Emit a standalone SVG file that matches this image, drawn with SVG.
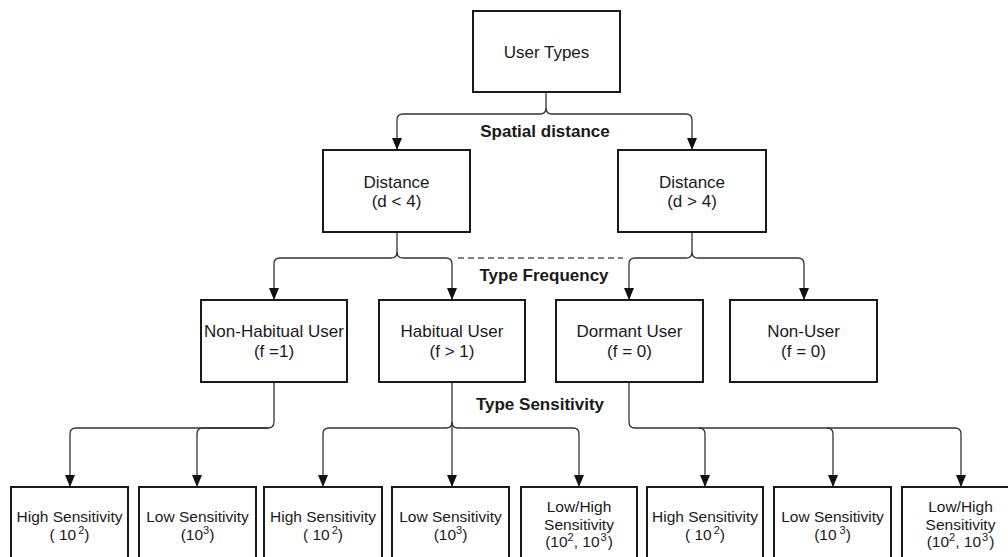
<svg xmlns="http://www.w3.org/2000/svg" width="1008" height="557" viewBox="0 0 1008 557">
  <style>
    .box { fill: #ffffff; stroke: #1a1a1a; stroke-width: 2; }
    .t { font-family: "Liberation Sans", Arial, sans-serif; fill: #1a1a1a; text-anchor: middle; }
    .t17 { font-size: 17px; }
    .t16 { font-size: 17px; }
    .t15 { font-size: 15.5px; }
    .lbl { font-family: "Liberation Sans", Arial, sans-serif; font-weight: bold; font-size: 17px; fill: #1a1a1a; text-anchor: middle; }
    .sup { font-size: 11px; }
    .wire { fill: none; stroke: #333333; stroke-width: 1.3; }
    .dash { fill: none; stroke: #555555; stroke-width: 1.3; stroke-dasharray: 6 4; }
  </style>
  <defs>
    <marker id="arrow" markerUnits="userSpaceOnUse" viewBox="0 0 12 10" refX="12" refY="5" markerWidth="12" markerHeight="10" orient="auto">
      <path d="M0,0 L12,5 L0,10 z" fill="#111111"/>
    </marker>
  </defs>
  <rect width="1008" height="557" fill="#ffffff"/>

  <g id="connectors">
    <!-- root to distance split -->
    <path class="wire" marker-end="url(#arrow)" d="M546,92 V108 Q546,114 540,114 H403 Q397,114 397,120 V150"/>
    <path class="wire" marker-end="url(#arrow)" d="M546,108 Q546,114 552,114 H686 Q692,114 692,120 V150"/>
    <!-- distance to frequency split -->
    <path class="wire" marker-end="url(#arrow)" d="M397,232 V252 Q397,258 391,258 H280 Q274,258 274,264 V300"/>
    <path class="wire" marker-end="url(#arrow)" d="M397,252 Q397,258 403,258 H446 Q452,258 452,264 V300"/>
    <path class="dash" d="M458,258 H623"/>
    <path class="wire" marker-end="url(#arrow)" d="M692,232 V252 Q692,258 686,258 H635 Q629,258 629,264 V300"/>
    <path class="wire" marker-end="url(#arrow)" d="M692,252 Q692,258 698,258 H798 Q804,258 804,264 V300"/>
    <!-- frequency to sensitivity split -->
    <path class="wire" marker-end="url(#arrow)" d="M274,382 V422 Q274,428 268,428 H76 Q70,428 70,434 V487"/>
    <path class="wire" marker-end="url(#arrow)" d="M268,428 H203 Q197,428 197,434 V487"/>
    <path class="wire" marker-end="url(#arrow)" d="M452,382 V422 Q452,428 446,428 H329 Q323,428 323,434 V487"/>
    <path class="wire" marker-end="url(#arrow)" d="M452,422 V487"/>
    <path class="wire" marker-end="url(#arrow)" d="M452,422 Q452,428 458,428 H573 Q579,428 579,434 V487"/>
    <path class="wire" marker-end="url(#arrow)" d="M629,382 V422 Q629,428 635,428 H699 Q705,428 705,434 V487"/>
    <path class="wire" marker-end="url(#arrow)" d="M699,428 H827 Q833,428 833,434 V487"/>
    <path class="wire" marker-end="url(#arrow)" d="M827,428 H955 Q961,428 961,434 V487"/>
  </g>

  <g id="labels">
    <text class="lbl" x="545" y="137">Spatial distance</text>
    <text class="lbl" x="544" y="281">Type Frequency</text>
    <text class="lbl" x="540" y="410">Type Sensitivity</text>
  </g>

  <g id="user-types">
    <rect class="box" x="473" y="11" width="147" height="81"/>
    <text class="t t17" x="546.5" y="58">User Types</text>
  </g>

  <g id="distance-near">
    <rect class="box" x="323" y="150" width="147" height="82"/>
    <text class="t t17" x="396.5" y="188">Distance</text>
    <text class="t t17" x="396.5" y="207">(d &lt; 4)</text>
  </g>
  <g id="distance-far">
    <rect class="box" x="618" y="150" width="148" height="82"/>
    <text class="t t17" x="692" y="188">Distance</text>
    <text class="t t17" x="692" y="207">(d &gt; 4)</text>
  </g>

  <g id="non-habitual-user">
    <rect class="box" x="201" y="300" width="146" height="82"/>
    <text class="t t16" x="274" y="337">Non-Habitual User</text>
    <text class="t t16" x="274" y="357">(f =1)</text>
  </g>
  <g id="habitual-user">
    <rect class="box" x="379" y="300" width="146" height="82"/>
    <text class="t t16" x="452" y="337">Habitual User</text>
    <text class="t t16" x="452" y="357">(f &gt; 1)</text>
  </g>
  <g id="dormant-user">
    <rect class="box" x="556" y="300" width="147" height="82"/>
    <text class="t t16" x="629.5" y="337">Dormant User</text>
    <text class="t t16" x="629.5" y="357">(f = 0)</text>
  </g>
  <g id="non-user">
    <rect class="box" x="730" y="300" width="147" height="82"/>
    <text class="t t16" x="803.5" y="337">Non-User</text>
    <text class="t t16" x="803.5" y="357">(f = 0)</text>
  </g>

  <g id="high-sensitivity-1">
    <rect class="box" x="11" y="487" width="117" height="80"/>
    <text class="t t15" x="69.5" y="522">High Sensitivity</text>
    <text class="t t15" x="69.5" y="540">( 10<tspan class="sup" dx="2" dy="-6">2</tspan><tspan dy="6">)</tspan></text>
  </g>
  <g id="low-sensitivity-1">
    <rect class="box" x="139" y="487" width="117" height="80"/>
    <text class="t t15" x="197.5" y="522">Low Sensitivity</text>
    <text class="t t15" x="197.5" y="540">(10<tspan class="sup" dy="-6">3</tspan><tspan dy="6">)</tspan></text>
  </g>
  <g id="high-sensitivity-2">
    <rect class="box" x="264" y="487" width="118" height="80"/>
    <text class="t t15" x="323" y="522">High Sensitivity</text>
    <text class="t t15" x="323" y="540">( 10<tspan class="sup" dx="2" dy="-6">2</tspan><tspan dy="6">)</tspan></text>
  </g>
  <g id="low-sensitivity-2">
    <rect class="box" x="392" y="487" width="117" height="80"/>
    <text class="t t15" x="450.5" y="522">Low Sensitivity</text>
    <text class="t t15" x="450.5" y="540">(10<tspan class="sup" dy="-6">3</tspan><tspan dy="6">)</tspan></text>
  </g>
  <g id="low-high-sensitivity-1">
    <rect class="box" x="521" y="487" width="116" height="80"/>
    <text class="t t15" x="579" y="512">Low/High</text>
    <text class="t t15" x="579" y="530">Sensitivity</text>
    <text class="t t15" x="579" y="547">(10<tspan class="sup" dy="-6">2</tspan><tspan dy="6">, 10</tspan><tspan class="sup" dx="1" dy="-6">3</tspan><tspan dx="1" dy="6">)</tspan></text>
  </g>
  <g id="high-sensitivity-3">
    <rect class="box" x="647" y="487" width="116" height="80"/>
    <text class="t t15" x="705" y="522">High Sensitivity</text>
    <text class="t t15" x="705" y="540">( 10<tspan class="sup" dx="2" dy="-6">2</tspan><tspan dy="6">)</tspan></text>
  </g>
  <g id="low-sensitivity-3">
    <rect class="box" x="774" y="487" width="117" height="80"/>
    <text class="t t15" x="832.5" y="522">Low Sensitivity</text>
    <text class="t t15" x="832.5" y="540">(10<tspan class="sup" dx="3" dy="-6">3</tspan><tspan dy="6">)</tspan></text>
  </g>
  <g id="low-high-sensitivity-2">
    <rect class="box" x="902" y="487" width="117" height="80"/>
    <text class="t t15" x="960.5" y="512">Low/High</text>
    <text class="t t15" x="960.5" y="530">Sensitivity</text>
    <text class="t t15" x="960.5" y="547">(10<tspan class="sup" dy="-6">2</tspan><tspan dy="6">, 10</tspan><tspan class="sup" dx="1" dy="-6">3</tspan><tspan dx="1" dy="6">)</tspan></text>
  </g>
</svg>
